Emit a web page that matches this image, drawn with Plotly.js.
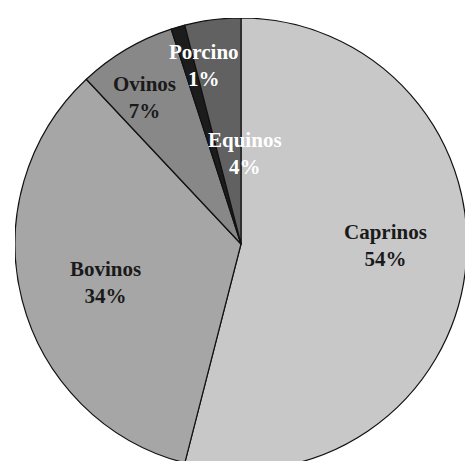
<!DOCTYPE html>
<html>
<head>
<meta charset="utf-8">
<script src="https://cdn.plot.ly/plotly-3.0.1.min.js"></script>
<style>
html, body { margin: 0; padding: 0; width: 465px; height: 461px; overflow: hidden; background: #fff; }
#chart { position: absolute; left: 15px; top: 18px; width: 452px; height: 452px; }
</style>
</head>
<body>
<div id="chart"></div>
<script>
// Data
const categories = ["Caprinos", "Bovinos", "Ovinos", "Porcino", "Equinos"];
const values = [54, 34, 7, 1, 4];
const percentLabels = ["54%", "34%", "7%", "1%", "4%"];

// Styles
const sliceColors = ["#c8c8c8", "#a6a6a6", "#888888", "#1c1c1c", "#616161"];
const labelColors = ["#1a1a1a", "#1a1a1a", "#1a1a1a", "#ffffff", "#ffffff"];
// label placement: radial fraction and angular offset (deg) from slice mid-angle
const labelRadius = [0.64, 0.625, 0.775, 0.806, 0.40];
const labelAngleOffset = [-6.8, -1.4, -2.7, 4.4, 9.7];

const total = values.reduce((a, b) => a + b, 0);
let cum = 0;
const annotations = categories.map((c, i) => {
  const mid = (cum + values[i] / 2) / total * 360;
  cum += values[i];
  const a = (mid + labelAngleOffset[i]) * Math.PI / 180;
  return {
    xref: "paper", yref: "paper",
    x: 0.5 + 0.5 * labelRadius[i] * Math.sin(a),
    y: 0.5 + 0.5 * labelRadius[i] * Math.cos(a),
    xanchor: "center", yanchor: "middle",
    showarrow: false,
    text: "<b>" + c + "</b><br><b>" + percentLabels[i] + "</b>",
    font: { family: "Liberation Serif, serif", size: 21, color: labelColors[i] }
  };
});

const trace = {
  type: "pie",
  labels: categories,
  values: values,
  sort: false,
  direction: "clockwise",
  rotation: 0,
  textinfo: "none",
  hoverinfo: "label+percent",
  marker: { colors: sliceColors, line: { color: "#111111", width: 1.2 } },
  domain: { x: [0, 1], y: [0, 1] }
};

const layout = {
  width: 452, height: 452,
  margin: { l: 0, r: 0, t: 0, b: 0 },
  showlegend: false,
  paper_bgcolor: "rgba(0,0,0,0)",
  plot_bgcolor: "rgba(0,0,0,0)",
  annotations: annotations
};

Plotly.newPlot("chart", [trace], layout, { displayModeBar: false, staticPlot: true });
</script>
</body>
</html>
